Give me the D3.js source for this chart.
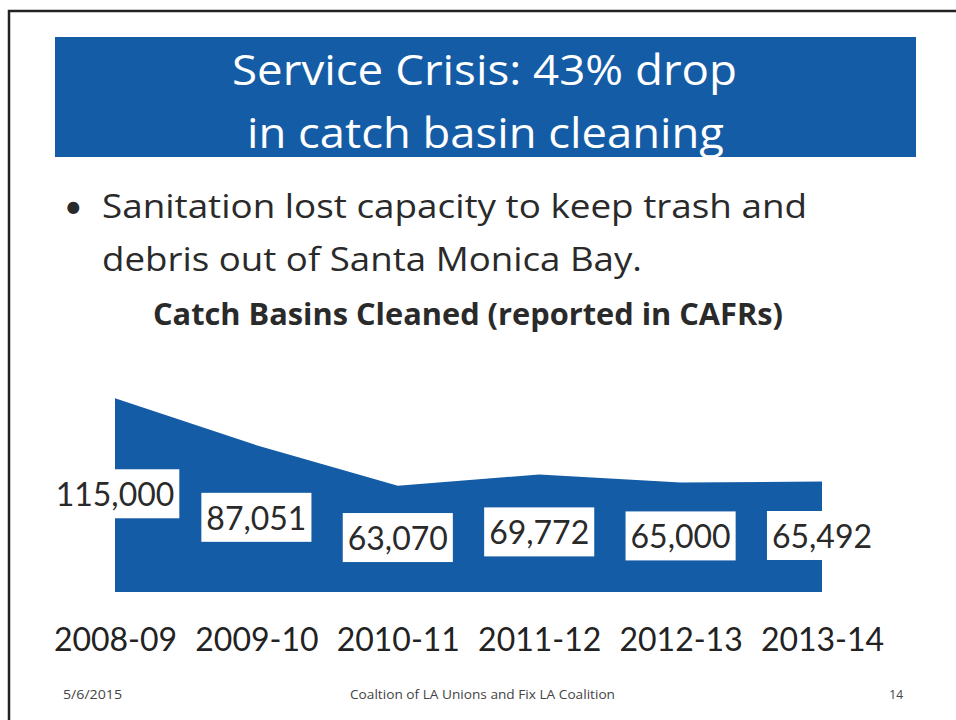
<!DOCTYPE html>
<html>
<head>
<meta charset="utf-8">
<script src="https://cdn.jsdelivr.net/npm/d3@7/dist/d3.min.js"></script>
<style>
  html, body { margin: 0; padding: 0; background: #ffffff; }
  svg { display: block; font-family: "Open Sans", Lato, sans-serif; }
</style>
</head>
<body>
<svg id="chart" width="956" height="720"></svg>
<script>
// ---- data ----
const titleLines = ["Service Crisis: 43% drop", "in catch basin cleaning"];
const bulletLines = ["Sanitation lost capacity to keep trash and", "debris out of Santa Monica Bay."];
const chartTitle = "Catch Basins Cleaned (reported in CAFRs)";
const categories = ["2008-09", "2009-10", "2010-11", "2011-12", "2012-13", "2013-14"];
const values = [115000, 87051, 63070, 69772, 65000, 65492];
const footerLeft = "5/6/2015";
const footerCenter = "Coaltion of LA Unions and Fix LA Coalition";
const footerRight = "14";

// layout (text start positions and widths measured from the slide)
const titleX = [232, 247], titleW = [505, 477];
const bulletW = [705, 540];

const BLUE = "#155ca6";
const svg = d3.select("#chart");

// slide frame
svg.append("path")
  .attr("d", "M9,720 L9,11 L956,11")
  .attr("fill", "none").attr("stroke", "#222").attr("stroke-width", 2.5);

// title banner
svg.append("rect").attr("x", 55).attr("y", 37).attr("width", 861).attr("height", 120).attr("fill", BLUE);
svg.selectAll("text.title").data(titleLines).join("text")
  .attr("class", "title")
  .attr("x", (d, i) => titleX[i]).attr("y", (d, i) => 85 + i * 63)
  .attr("textLength", (d, i) => titleW[i]).attr("lengthAdjust", "spacingAndGlyphs")
  .attr("fill", "#ffffff").attr("font-size", 42)
  .text(d => d);

// bullet
svg.append("text").attr("x", 64).attr("y", 218).attr("font-size", 32)
  .attr("font-family", "Lato, sans-serif").attr("fill", "#2a2a2a").text("•");
svg.selectAll("text.bullet").data(bulletLines).join("text")
  .attr("class", "bullet")
  .attr("x", 102).attr("y", (d, i) => 218 + i * 53)
  .attr("textLength", (d, i) => bulletW[i]).attr("lengthAdjust", "spacingAndGlyphs")
  .attr("fill", "#2a2a2a").attr("font-size", 32)
  .text(d => d);

// chart title
svg.append("text").attr("x", 153).attr("y", 325)
  .attr("textLength", 630).attr("lengthAdjust", "spacingAndGlyphs")
  .attr("font-size", 30).attr("font-weight", "bold").attr("fill", "#2a2a2a").text(chartTitle);

// scales
const x = d3.scalePoint().domain(categories).range([115, 822]);
const y = d3.scaleLinear().domain([0, 140000]).range([592, 356]);

const data = categories.map((c, i) => ({ c, v: values[i] }));

// area
const area = d3.area().x(d => x(d.c)).y0(y(0)).y1(d => y(d.v));
svg.append("path").datum(data).attr("d", area).attr("fill", BLUE);

// value labels with white boxes
const fmt = d3.format(",");
const lbl = svg.append("g");
data.forEach(d => {
  const g = lbl.append("g");
  const t = g.append("text")
    .attr("x", x(d.c)).attr("y", y(d.v / 2)).attr("dy", "0.35em")
    .attr("text-anchor", "middle").attr("font-size", 32).attr("fill", "#2a2a2a")
    .attr("font-family", "Lato, sans-serif")
    .text(fmt(d.v));
  const b = t.node().getBBox();
  g.insert("rect", "text")
    .attr("x", b.x - 5).attr("y", b.y - 5)
    .attr("width", b.width + 10).attr("height", b.height + 10)
    .attr("fill", "#ffffff");
});

// category axis labels
const xAxis = d3.axisBottom(x).tickSize(0).tickPadding(0);
const ax = svg.append("g").attr("transform", "translate(0,628)").call(xAxis);
ax.select(".domain").remove();
ax.selectAll("text").attr("font-size", 32).attr("fill", "#222").attr("dy", "0.72em")
  .attr("font-family", "Lato, sans-serif");

// footer
svg.append("text").attr("x", 63).attr("y", 699).attr("font-size", 12)
  .attr("textLength", 59).attr("lengthAdjust", "spacingAndGlyphs").attr("fill", "#444").text(footerLeft);
svg.append("text").attr("x", 350).attr("y", 699).attr("font-size", 13)
  .attr("textLength", 265).attr("lengthAdjust", "spacingAndGlyphs").attr("fill", "#444").text(footerCenter);
svg.append("text").attr("x", 903).attr("y", 699).attr("text-anchor", "end").attr("font-size", 12).attr("fill", "#444").text(footerRight);
</script>
</body>
</html>
